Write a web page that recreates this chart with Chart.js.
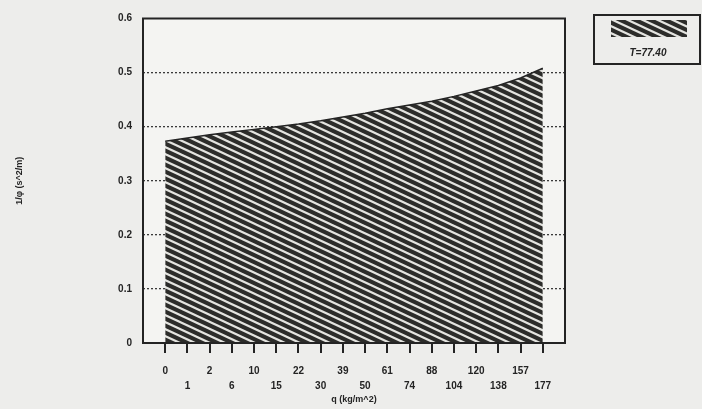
<!DOCTYPE html>
<html>
<head>
<meta charset="utf-8">
<script src="https://cdn.jsdelivr.net/npm/chart.js@4"></script>
<style>
  html, body { margin: 0; padding: 0; background: #ededeb; }
  #wrap { width: 702px; height: 409px; }
</style>
</head>
<body>
<div id="wrap"><canvas id="graph" width="702" height="409"></canvas></div>
<script>
// q values (kg/m^2) shown under the x axis
const qLabels = ['0','1','2','6','10','15','22','30','39','50','61','74','88','104','120','138','157','177'];
// 1/phi values
const invPhi = [0.373,0.379,0.385,0.390,0.395,0.400,0.405,0.411,0.418,0.425,0.433,0.440,0.447,0.456,0.466,0.476,0.490,0.508];
const yTicks = [0, 0.1, 0.2, 0.3, 0.4, 0.5, 0.6];
const seriesName = 'T=77.40';

const ink = '#242424';
const txtFont = { family: 'Liberation Sans', weight: 'bold', size: 10, lineHeight: 1.5 };

function hatch(){
    const t = document.createElement('canvas');
    t.width = 15; t.height = 7;
    const c = t.getContext('2d');
    c.fillStyle = '#2c2c2a';
    c.fillRect(0, 0, 15, 7);
    c.strokeStyle = '#e4e4e0';
    c.lineWidth = 2.2;
    for (let k = -1; k <= 1; k++) {
        c.beginPath();
        c.moveTo(-1, 7 * k - 0.47);
        c.lineTo(16, 7 + 7 * k + 0.47);
        c.stroke();
    }
    return c.createPattern(t, 'repeat');
}

const pts = invPhi.map((v, i) => ({ x: i, y: v }));

const frame = {
    id: 'frame',
    beforeDraw(chart) {
        const { ctx, chartArea: a } = chart;
        ctx.save();
        ctx.fillStyle = '#ededeb';
        ctx.fillRect(0, 0, chart.width, chart.height);
        ctx.fillStyle = '#f4f4f2';
        ctx.fillRect(a.left, a.top, a.right - a.left, a.bottom - a.top);
        ctx.restore();
    },
    afterDraw(chart) {
        const { ctx, chartArea: a } = chart;
        ctx.save();
        ctx.strokeStyle = ink;
        ctx.lineWidth = 2;
        ctx.strokeRect(a.left, a.top, a.right - a.left, a.bottom - a.top);
        // legend box
        ctx.strokeRect(594, 15, 106, 49);
        ctx.fillStyle = hatch();
        ctx.fillRect(611, 20, 76, 17);
        ctx.fillStyle = ink;
        ctx.font = 'italic bold 10px "Liberation Sans"';
        ctx.textAlign = 'center';
        ctx.textBaseline = 'middle';
        ctx.fillText(chart.data.datasets[0].label, 648, 53);
        ctx.restore();
    }
};

new Chart(document.getElementById('graph').getContext('2d'), {
    type: 'line',
    data: {
        datasets: [{
            label: seriesName,
            data: pts,
            fill: 'origin',
            backgroundColor: hatch(),
            borderColor: ink,
            borderWidth: 1.5,
            pointRadius: 0,
            tension: 0
        }]
    },
    options: {
        responsive: false,
        animation: false,
        layout: { padding: { top: 13, right: 137, left: 0, bottom: 0 } },
        plugins: { legend: { display: false }, tooltip: { enabled: false } },
        scales: {
            x: {
                type: 'linear',
                min: -1, max: 18,
                afterBuildTicks(s) { s.ticks = qLabels.map((_, i) => ({ value: i })); },
                afterFit(s) { s.height = 66; },
                border: { display: false },
                grid: { drawOnChartArea: false, drawTicks: true, tickLength: 10, color: ink, lineWidth: 2 },
                ticks: {
                    autoSkip: false, maxRotation: 0, padding: 11, color: ink, font: txtFont,
                    callback: (v) => (v % 2 === 0 ? [qLabels[v]] : ['', qLabels[v]])
                },
                title: { display: true, text: 'q (kg/m^2)', color: ink, font: { family: 'Liberation Sans', weight: 'bold', size: 9 }, padding: { top: 0, bottom: 4 } }
            },
            y: {
                min: 0, max: 0.6,
                afterBuildTicks(s) { s.ticks = yTicks.map(v => ({ value: v })); },
                afterFit(s) { s.width = 143; },
                border: { display: false, dash: [2, 2] },
                grid: {
                    drawTicks: false,
                    color: (c) => (c.tick.value > 0 && c.tick.value < 0.6 ? '#3a3a3a' : 'rgba(0,0,0,0)'),
                    lineWidth: 1.3
                },
                ticks: { padding: 11, color: ink, font: txtFont, callback: (v) => String(+v.toFixed(1)) },
                title: { display: true, text: '1/φ (s^2/m)', color: ink, font: { family: 'Liberation Sans', weight: 'bold', size: 9 }, padding: { top: 14, bottom: 6 } }
            }
        }
    },
    plugins: [frame]
});
</script>
</body>
</html>
